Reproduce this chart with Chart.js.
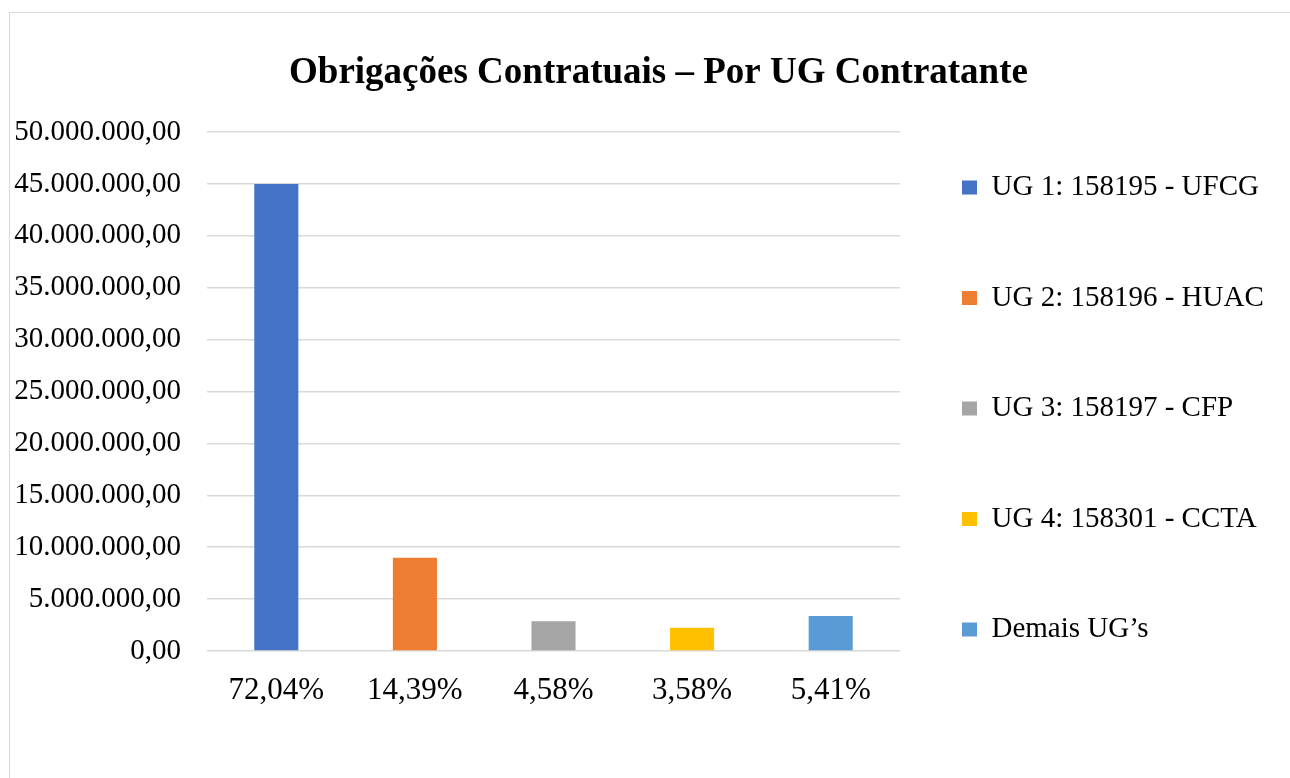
<!DOCTYPE html>
<html lang="pt-BR">
<head>
<meta charset="utf-8">
<title>Obrigações Contratuais – Por UG Contratante</title>
<script src="https://cdn.jsdelivr.net/npm/chart.js@4.4.1/dist/chart.umd.min.js"></script>
<style>
  html, body { margin: 0; padding: 0; background: #fff; overflow: hidden; }
  #frame { position: absolute; left: 9px; top: 12px; width: 1298px; height: 780px; border: 1px solid #d9d9d9; }
  #frame canvas { display: block; }
</style>
</head>
<body>
<div id="frame"><canvas id="ugChart" width="1298" height="780"></canvas></div>
<script>
const percentLabels = ['72,04%', '14,39%', '4,58%', '3,58%', '5,41%'];
const ugNames = ['UG 1: 158195 - UFCG', 'UG 2: 158196 - HUAC', 'UG 3: 158197 - CFP', 'UG 4: 158301 - CCTA', 'Demais UG’s'];
const ugValues = [45000000, 8990000, 2860000, 2240000, 3380000];
const ugColors = ['#4472c4', '#ed7d31', '#a5a5a5', '#ffc000', '#5b9bd5'];
const yMin = 0;
const yMax = 50000000;
const yStep = 5000000;

const serif = "'Liberation Serif', 'Times New Roman', serif";
Chart.defaults.font.family = serif;
Chart.defaults.color = '#000';

// 45000000 -> "45.000.000,00"
function formatBR(v) {
  const whole = Math.round(v).toString().replace(/\B(?=(\d{3})+(?!\d))/g, '.');
  return whole + ',00';
}

const ctx = document.getElementById('ugChart').getContext('2d');
new Chart(ctx, {
  type: 'bar',
  data: {
    labels: percentLabels,
    datasets: [{
      label: 'Obrigações',
      data: ugValues,
      backgroundColor: ugColors,
      borderWidth: 0,
      barPercentage: 0.318,
      categoryPercentage: 1
    }]
  },
  options: {
    responsive: false,
    animation: false,
    layout: { padding: { left: 2, right: 3, top: 0, bottom: 62.5 } },
    plugins: {
      tooltip: { enabled: false },
      title: {
        display: true,
        text: 'Obrigações Contratuais – Por UG Contratante',
        color: '#000',
        font: { size: 37, weight: 'bold', family: serif },
        padding: { top: 38.3, bottom: 36.3 }
      },
      legend: {
        position: 'right',
        align: 'start',
        maxWidth: 420,
        onClick: null,
        // empty title only used as a spacer above the first item
        title: { display: true, text: '', font: { size: 12 }, padding: { top: 83.6, bottom: 0 } },
        labels: {
          boxWidth: 15,
          boxHeight: 14,
          padding: 62,
          color: '#000',
          font: { size: 29, family: serif, lineHeight: 48.5 / 29 },
          generateLabels: () => ugNames.map((name, i) => ({
            text: [name],
            fillStyle: ugColors[i],
            strokeStyle: ugColors[i],
            lineWidth: 0,
            hidden: false,
            index: i
          }))
        }
      }
    },
    scales: {
      x: {
        grid: { display: false, drawTicks: false },
        border: { display: false },
        ticks: {
          padding: 1,
          color: '#000',
          font: { size: 31, family: serif, lineHeight: 2.5 },
          maxRotation: 0
        }
      },
      y: {
        min: yMin,
        max: yMax,
        afterFit: (scale) => { scale.width = 195; },
        grid: { color: '#d9d9d9', lineWidth: 1.5, drawTicks: false },
        border: { display: false },
        ticks: {
          stepSize: yStep,
          padding: 26,
          color: '#000',
          font: { size: 29, family: serif },
          callback: (v) => formatBR(v)
        }
      },
      // empty axis outside the legend, keeps the plot area ending where the original one does
      rightGap: {
        type: 'linear',
        position: 'right',
        weight: 1001,
        ticks: { display: false },
        grid: { display: false },
        border: { display: false },
        afterFit: (scale) => { scale.width = Math.max(0, 405 - scale.chart.legend.width); }
      }
    }
  }
});
</script>
</body>
</html>
